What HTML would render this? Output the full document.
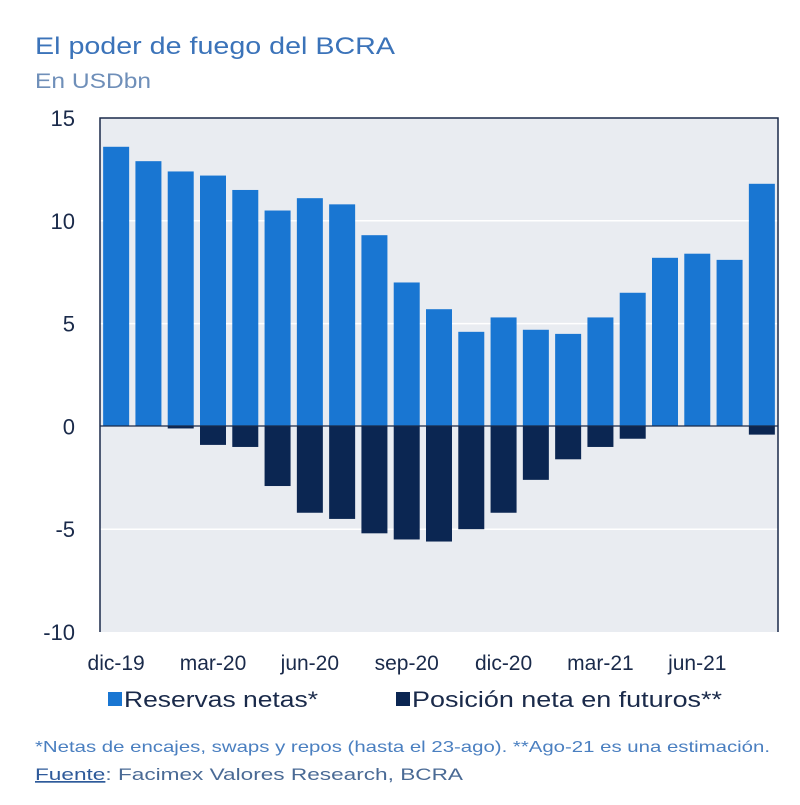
<!DOCTYPE html>
<html><head><meta charset="utf-8"><style>
body{margin:0;background:#fff;width:800px;height:805px;overflow:hidden}
svg{display:block;font-family:"Liberation Sans",sans-serif}
</style></head><body>
<svg id="chart" width="800" height="805" viewBox="0 0 800 805">
<text x="35" y="54" font-size="24" fill="#3b73b9" textLength="360" lengthAdjust="spacingAndGlyphs">El poder de fuego del BCRA</text>
<text x="35" y="88" font-size="21" fill="#6f8fb9" textLength="116" lengthAdjust="spacingAndGlyphs">En USDbn</text>
<rect x="100" y="118" width="678" height="514" fill="#e9ecf1"/>
<g id="grid"></g>
<g id="bars"></g>
<line x1="100" y1="426" x2="778" y2="426" stroke="#1a2a4a" stroke-width="1.2"/>
<path d="M100 632 V118 H778 V632" fill="none" stroke="#1a2a4a" stroke-width="1.5"/>
<g id="yticks"></g>
<g id="xticks"></g>
<rect x="108" y="692" width="14" height="14" fill="#1976d2"/>
<text x="124" y="707" font-size="22" fill="#1a2a4a" textLength="194" lengthAdjust="spacingAndGlyphs">Reservas netas*</text>
<rect x="396" y="692" width="14" height="14" fill="#0b2652"/>
<text x="412" y="707" font-size="22" fill="#1a2a4a" textLength="310" lengthAdjust="spacingAndGlyphs">Posición neta en futuros**</text>
<text x="35" y="752" font-size="16" fill="#4a7fc0" textLength="735" lengthAdjust="spacingAndGlyphs">*Netas de encajes, swaps y repos (hasta el 23-ago). **Ago-21 es una estimación.</text>
<text x="35" y="780" font-size="17" fill="#4a6a95" textLength="428" lengthAdjust="spacingAndGlyphs"><tspan text-decoration="underline" fill="#2e5a9a">Fuente</tspan>: Facimex Valores Research, BCRA</text>
</svg>
<script>
const categories=["dic-19","ene-20","feb-20","mar-20","abr-20","may-20","jun-20","jul-20","ago-20","sep-20","oct-20","nov-20","dic-20","ene-21","feb-21","mar-21","abr-21","may-21","jun-21","jul-21","ago-21"];
const reservas=[13.6,12.9,12.4,12.2,11.5,10.5,11.1,10.8,9.3,7.0,5.7,4.6,5.3,4.7,4.5,5.3,6.5,8.2,8.4,8.1,11.8];
const futuros=[0,0,-0.1,-0.9,-1.0,-2.9,-4.2,-4.5,-5.2,-5.5,-5.6,-5.0,-4.2,-2.6,-1.6,-1.0,-0.6,0,0,0,-0.4];
const yTicks=[15,10,5,0,-5,-10];
const xLabels=["dic-19","mar-20","jun-20","sep-20","dic-20","mar-21","jun-21"];
const NS="http://www.w3.org/2000/svg";
const x0=100,x1=778,yTop=118,yBot=632,yMax=15,yMin=-10;
const band=(x1-x0)/categories.length,bw=26;
const y=v=>yTop+(yMax-v)/(yMax-yMin)*(yBot-yTop);
const xc=i=>x0+band*(i+0.5);
function mk(tag,attrs,parent){const e=document.createElementNS(NS,tag);for(const k in attrs)e.setAttribute(k,attrs[k]);document.getElementById(parent).appendChild(e);return e;}
yTicks.forEach(t=>{
  if(t!==0&&t!==15&&t!==-10){const g=mk('line',{x1:x0,x2:x1,y1:y(t),y2:y(t),stroke:'#fff','stroke-width':1.5},'grid');
  
  }
  const tx=mk('text',{x:75,y:y(t)+8,'font-size':22,fill:'#1a2a4a','text-anchor':'end'},'yticks');
  tx.textContent=t;
  
  
});
categories.forEach((c,i)=>{
  const r=reservas[i];
  const b=mk('rect',{x:xc(i)-bw/2,y:y(Math.max(r,0)),width:bw,height:Math.abs(y(r)-y(0)),fill:'#1976d2'},'bars');
  
  
  const f=futuros[i];
  if(f!==0){const b2=mk('rect',{x:xc(i)-bw/2,y:y(0),width:bw,height:Math.abs(y(f)-y(0)),fill:'#0b2652'},'bars');
  
  }
});
xLabels.forEach(l=>{
  const i=categories.indexOf(l);
  const t=mk('text',{x:xc(i),y:670,'font-size':21,fill:'#1a2a4a','text-anchor':'middle'},'xticks');
  t.textContent=l;
  
  
});
</script>
</body></html>
